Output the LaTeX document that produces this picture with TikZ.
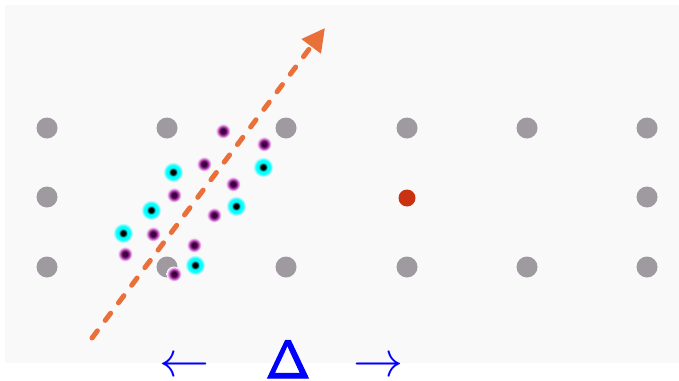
\documentclass[tikz,border=0pt]{standalone}
\usepackage[no-math]{fontspec}
\usepackage{graphicx}
\usetikzlibrary{arrows.meta}

\definecolor{bgc}{RGB}{249,249,249}
\definecolor{sitegray}{RGB}{158,154,160}
\definecolor{walkorange}{RGB}{234,112,58}
\definecolor{sitered}{RGB}{200,50,16}
\definecolor{purpdark}{RGB}{60,0,60}
\definecolor{purpmid}{RGB}{176,60,176}
\definecolor{purplight}{RGB}{232,165,232}

% glowing particles
\pgfdeclareradialshading{cyanglow}{\pgfpoint{0bp}{0bp}}{color(0bp)=(black); color(6bp)=(black); color(11bp)=(cyan); color(17bp)=(cyan); color(25bp)=(bgc); color(50bp)=(bgc)}
\pgfdeclareradialshading{magglow}{\pgfpoint{0bp}{0bp}}{color(0bp)=(purpdark); color(8bp)=(purpdark); color(15bp)=(purpmid); color(20bp)=(purplight); color(25bp)=(bgc); color(50bp)=(bgc)}

\newcommand{\bigsym}[2][5.0]{\scalebox{#1}{$#2$}}
% heavier outline for the shift symbol
\newcommand{\heavy}[1]{\special{pdf:literal direct 2 Tr 0.22 w}#1\special{pdf:literal direct 0 Tr}}

\tikzset{
  site/.style={circle,fill=sitegray,inner sep=0pt,minimum size=21pt},
  redsite/.style={circle,fill=sitered,inner sep=0pt,minimum size=17pt},
  cyandot/.style={circle,inner sep=0pt,minimum size=20pt,shade,shading=cyanglow},
  magdot/.style={circle,inner sep=0pt,minimum size=15pt,shade,shading=magglow},
  walk/.style={walkorange,line width=5pt,line cap=round,dash pattern=on 9pt off 13pt,
    -{Triangle[length=23pt,width=23pt]}},
  label/.style={blue,inner sep=0pt,anchor=base}
}

\begin{document}
\begin{tikzpicture}[x=1pt,y=-1pt]
  \useasboundingbox (0,0) rectangle (679,380);
  \fill[bgc] (5,5) rectangle (679,363);
  % lattice sites
  \foreach \c/\x in {1/47,2/167,3/286,4/407,5/527,6/647} {
    \node[site] (top\c) at (\x,128) {};
    \node[site] (bot\c) at (\x,267) {};
  }
  \node[site] (mid1) at (47,197) {};
  \node[site] (mid6) at (647,197) {};
  \node[redsite] (mid4) at (407,198) {};
  % cloud of particles
  \foreach \n/\x/\y in {1/173/172,2/151/210,3/123/233,4/263/167,5/236/206,6/195/265}
    \node[cyandot] (c\n) at (\x,\y) {};
  \foreach \n/\x/\y in {1/223/131,2/264/144,3/204/164,4/233/184,5/174/195,
                        6/214/215,7/153/234,8/194/245,9/125/254,10/174/274}
    \node[magdot] (m\n) at (\x,\y) {};
  % drift direction
  \coordinate (start) at (92,338);
  \coordinate (tip) at (325,28);
  \draw[walk] (start) -- (tip);
  % shift labels
  \node[label] (la) at (184,376) {\bigsym{\leftarrow}};
  \node[label] (dl) at (288,378) {\heavy{\bigsym[5.4]{\mathsf{\Delta}}}};
  \node[label] (ra) at (378,376) {\bigsym{\rightarrow}};
\end{tikzpicture}
\end{document}
